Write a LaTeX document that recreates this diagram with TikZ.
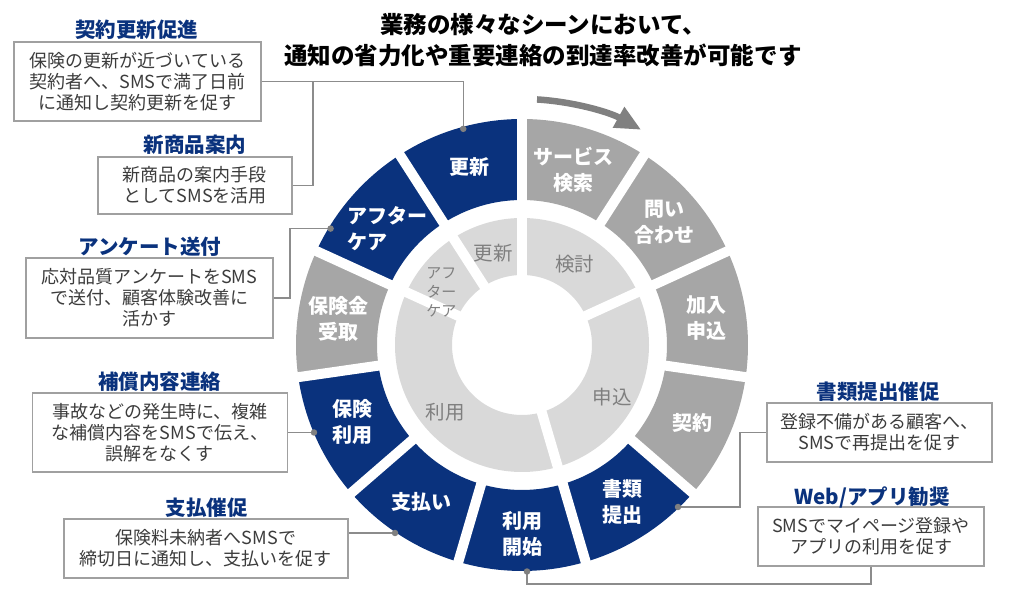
\documentclass[tikz,border=0pt]{standalone}
\usepackage{fontspec}
\setmainfont{Noto Sans CJK JP}
\usetikzlibrary{arrows.meta}
\definecolor{navy}{HTML}{0A327D}
\definecolor{segG}{HTML}{A6A6A6}
\definecolor{inG}{HTML}{D9D9D9}
\definecolor{inT}{HTML}{7F7F7F}
\definecolor{lineG}{HTML}{8C8C8C}
\definecolor{boxG}{HTML}{A0A0A0}
\definecolor{txt}{HTML}{3C3C3C}
\definecolor{arrG}{HTML}{808080}
\begin{document}
\begin{tikzpicture}[x=1pt,y=1pt,
  callout/.style={draw=boxG, line width=1.2pt, fill=white, align=center, text=txt, font=\fontsize{18}{21}\selectfont, inner sep=0pt},
  ctitle/.style={text=navy, font=\fontsize{20.5}{24}\selectfont\bfseries, inner sep=0pt},
  seglab/.style={text=white, font=\fontsize{20}{26}\selectfont\bfseries, align=center, inner sep=0pt},
  inlab/.style={text=inT, font=\fontsize{19.5}{22}\selectfont, align=center, inner sep=0pt},
  conn/.style={draw=lineG, line width=1.2pt},
  cdot/.style={circle, fill=arrG, inner sep=0pt, minimum size=6.5pt},
  gapline/.style={draw=white, line width=10pt}
]
\useasboundingbox (-522,-248) rectangle (502,345);

% outer ring
\foreach \i/\col in {0/segG,1/segG,2/segG,3/segG,4/navy,5/navy,6/navy,7/navy,8/segG,9/navy,10/navy}{
  \pgfmathsetmacro\aa{90-\i*360/11}
  \pgfmathsetmacro\ab{90-(\i+1)*360/11}
  \fill[\col] (\aa:145pt) arc[start angle=\aa, end angle=\ab, radius=145pt] -- (\ab:226pt) arc[start angle=\ab, end angle=\aa, radius=226pt] -- cycle;
}
\foreach \i in {0,...,10}{
  \pgfmathsetmacro\aa{90-\i*360/11}
  \draw[gapline] (\aa:138pt) -- (\aa:234pt);
}
% inner ring
\fill[inG, even odd rule] (0,0) circle[radius=127pt] (0,0) circle[radius=70pt];
\foreach \k in {0,2,5,9,10}{
  \pgfmathsetmacro\aa{90-\k*360/11}
  \draw[gapline] (\aa:62pt) -- (\aa:134pt);
}

% outer labels
\node[seglab] (l0) at (73.64:183pt) {サービス\\検索};
\node[seglab] (l1) at (40.91:188pt) {問い\\合わせ};
\node[seglab] (l2) at (8.18:186pt) {加入\\申込};
\node[seglab] (l3) at (-24.55:187pt) {契約};
\node[seglab] (l4) at (-57.27:186pt) {書類\\提出};
\node[seglab] (l5) at (-90:189pt) {利用\\開始};
\node[seglab] (l6) at (-122.73:186pt) {支払い};
\node[seglab] (l7) at (-155.45:186pt) {保険\\利用};
\node[seglab] (l8) at (-188.18:185pt) {保険金\\受取};
\node[seglab, align=left] (l9) at (-220.91:178pt) {アフター\\ケア};
\node[seglab] (l10) at (-253.64:185pt) {更新};

% inner labels
\node[inlab] (i1) at (57:97pt) {検討};
\node[inlab] (i2) at (-30:104pt) {申込};
\node[inlab] (i3) at (-139:102pt) {利用};
\node[inlab] (i5) at (107.5:96pt) {更新};
\node[inlab, align=left, font=\fontsize{15}{19}\selectfont] (i4) at (147:96pt) {アフ\\ター\\ケア};

% flow arrow
\draw[arrG, line width=6.5pt, -{Triangle[length=26pt, width=22pt]}] (86.5:246pt) arc[start angle=86.5, end angle=61, radius=246pt];

% title
\node[font=\fontsize{23.5}{31}\selectfont\bfseries, align=center, inner sep=0pt] (title) at (21,304.5) {業務の様々なシーンにおいて、\\通知の省力化や重要連絡の到達率改善が可能です};

% dots (connector ends)
\coordinate (d10) at (105.2:224pt);
\coordinate (d9) at (-191.4,116.4);
\coordinate (d7) at (-208,-87.5);
\coordinate (d6) at (-127,-188);
\coordinate (d5) at (5,-226.5);
\coordinate (d4) at (156,-162);

% callout boxes
\node[callout, minimum width=247pt, minimum height=79pt] (b1) at (-384.5,263.5) {保険の更新が近づいている\\契約者へ、SMSで満了日前\\に通知し契約更新を促す};
\node[ctitle] (t1) at (-385,315) {契約更新促進};
\node[callout, minimum width=194pt, minimum height=57pt] (b2) at (-327,159.5) {新商品の案内手段\\としてSMSを活用};
\node[ctitle] (t2) at (-327,200) {新商品案内};
\node[callout, minimum width=247pt, minimum height=80pt] (b3) at (-372.5,47) {応対品質アンケートをSMS\\で送付、顧客体験改善に\\活かす};
\node[ctitle] (t3) at (-372,98) {アンケート送付};
\node[callout, minimum width=255pt, minimum height=79pt] (b4) at (-362,-87.5) {事故などの発生時に、複雑\\な補償内容をSMSで伝え、\\誤解をなくす};
\node[ctitle] (t4) at (-362,-37) {補償内容連絡};
\node[callout, minimum width=284pt, minimum height=59pt] (b5) at (-316,-203.5) {保険料未納者へSMSで\\締切日に通知し、支払いを促す};
\node[ctitle] (t5) at (-315,-163) {支払催促};
\node[callout, minimum width=225pt, minimum height=59pt] (b6) at (357.5,-87.5) {登録不備がある顧客へ、\\SMSで再提出を促す};
\node[ctitle] (t6) at (356,-47) {書類提出催促};
\node[callout, minimum width=226pt, minimum height=59pt] (b7) at (349,-191.5) {SMSでマイページ登録や\\アプリの利用を促す};
\node[ctitle] (t7) at (350,-152) {Web/アプリ勧奨};

% connectors
\coordinate (j2) at (-209,263.5);
\coordinate (k3) at (-232,0);
\coordinate (k4) at (218,0);
\coordinate (k5) at (5,-239);
\draw[conn] (d10) |- (b1.east);
\draw[conn] (b2.east) -| (j2);
\draw[conn] (b3.east) -- (b3.east -| k3) |- (d9);
\draw[conn] (b4.east) -- (d7);
\draw[conn] (d6) -- (d6 -| b5.east);
\draw[conn] (d4) -- (d4 -| k4) |- (b6.west);
\draw[conn] (b7.south) |- (k5) -- (d5);

\foreach \d in {d10,d9,d7,d6,d5,d4}{
  \node[cdot] at (\d) {};
}
\end{tikzpicture}
\end{document}
